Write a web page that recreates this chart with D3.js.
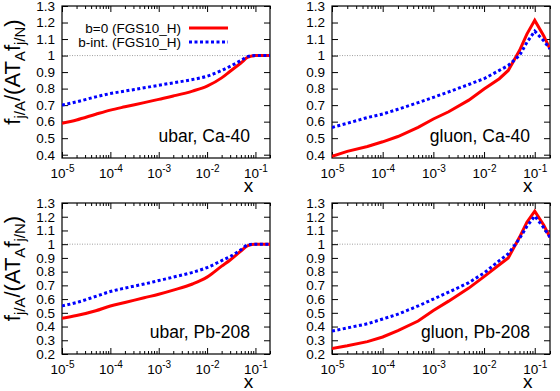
<!DOCTYPE html>
<html>
<head>
<meta charset="utf-8">
<script src="https://cdn.jsdelivr.net/npm/d3@7"></script>
<style>
  body { margin: 0; background: #fff; }
  svg { font-family: "Liberation Sans", Arial, sans-serif; }
  .axis path { display: none; }
  .axis line { stroke: #000; stroke-width: 1; }
</style>
</head>
<body>
<script>
// x grid shared by every curve
const xs = [1e-5, 2e-5, 5e-5, 1e-4, 2e-4, 5e-4, 1e-3, 2e-3, 5e-3, 1e-2, 2e-2, 3e-2, 5e-2, 7e-2, 0.1, 0.15, 0.2];

// ubar, Ca-40
const ubarCaB0   = [0.59, 0.61, 0.645, 0.67, 0.69, 0.715, 0.735, 0.755, 0.785, 0.815, 0.865, 0.905, 0.955, 0.99, 1.0, 1.0, 1.0];
const ubarCaBint = [0.70, 0.72, 0.75, 0.77, 0.785, 0.805, 0.82, 0.835, 0.855, 0.875, 0.91, 0.935, 0.97, 0.995, 1.0, 1.0, 1.0];
// gluon, Ca-40
const gluCaB0    = [0.39, 0.42, 0.45, 0.478, 0.51, 0.565, 0.616, 0.66, 0.73, 0.798, 0.86, 0.91, 1.03, 1.13, 1.213, 1.12, 1.04];
const gluCaBint  = [0.565, 0.59, 0.625, 0.646, 0.675, 0.715, 0.747, 0.78, 0.825, 0.86, 0.91, 0.94, 1.0, 1.08, 1.148, 1.09, 1.04];
// ubar, Pb-208
const ubarPbB0   = [0.46, 0.48, 0.515, 0.55, 0.575, 0.61, 0.635, 0.665, 0.71, 0.76, 0.84, 0.885, 0.95, 0.99, 1.0, 1.0, 1.0];
const ubarPbBint = [0.55, 0.575, 0.62, 0.655, 0.68, 0.71, 0.735, 0.76, 0.795, 0.83, 0.88, 0.91, 0.96, 0.995, 1.0, 1.0, 1.0];
// gluon, Pb-208
const gluPbB0    = [0.24, 0.26, 0.29, 0.324, 0.37, 0.44, 0.517, 0.585, 0.68, 0.764, 0.85, 0.9, 1.05, 1.16, 1.24, 1.14, 1.05];
const gluPbBint  = [0.367, 0.39, 0.42, 0.455, 0.49, 0.55, 0.6, 0.65, 0.72, 0.79, 0.88, 0.93, 1.04, 1.13, 1.205, 1.12, 1.05];

const xTickExps = [-5, -4, -3, -2, -1];
const yTicksTop = [0.4, 0.5, 0.6, 0.7, 0.8, 0.9, 1, 1.1, 1.2, 1.3];
const yTicksBot = [0.2, 0.3, 0.4, 0.5, 0.6, 0.7, 0.8, 0.9, 1, 1.1, 1.2, 1.3];
const seriesNames = ["b=0 (FGS10_H)", "b-int. (FGS10_H)"];

const panels = [
  {label: "ubar, Ca-40",   b0: ubarCaB0, bint: ubarCaBint, x0: 62,  x1: 270, y0: 6,   y1: 158, ymin: 0.38, yticks: yTicksTop, ylab: true,  legend: true,  smooth: true},
  {label: "gluon, Ca-40",  b0: gluCaB0,  bint: gluCaBint,  x0: 332, x1: 550, y0: 6,   y1: 158, ymin: 0.38, yticks: yTicksTop, ylab: false, legend: false, smooth: false},
  {label: "ubar, Pb-208",  b0: ubarPbB0, bint: ubarPbBint, x0: 62,  x1: 270, y0: 203, y1: 354, ymin: 0.2,  yticks: yTicksBot, ylab: true,  legend: false, smooth: true},
  {label: "gluon, Pb-208", b0: gluPbB0,  bint: gluPbBint,  x0: 332, x1: 550, y0: 203, y1: 354, ymin: 0.2,  yticks: yTicksBot, ylab: false, legend: false, smooth: false}
];

const svg = d3.select("body").append("svg")
  .attr("width", 560)
  .attr("height", 391);

panels.forEach(p => {
  const x = d3.scaleLog().domain([1e-5, 0.2]).range([p.x0, p.x1]);
  const y = d3.scaleLinear().domain([p.ymin, 1.3]).range([p.y1, p.y0]);
  const g = svg.append("g");

  // dotted reference line at 1
  g.append("line")
    .attr("x1", p.x0).attr("x2", p.x1)
    .attr("y1", y(1)).attr("y2", y(1))
    .attr("stroke", "#777").attr("stroke-width", 0.7)
    .attr("stroke-dasharray", "1,1.5");

  // minor x ticks (2..9 per decade), bottom and top
  const minor = x.ticks().filter(v => !xTickExps.some(e => Math.abs(Math.log10(v) - e) < 1e-6));
  g.append("g").attr("class", "axis")
    .attr("transform", `translate(0,${p.y1})`)
    .call(d3.axisBottom(x).tickValues(minor).tickSize(-3).tickFormat(""));
  g.append("g").attr("class", "axis")
    .attr("transform", `translate(0,${p.y0})`)
    .call(d3.axisTop(x).tickValues(minor).tickSize(-3).tickFormat(""));

  // major x ticks
  const xMajor = xTickExps.map(e => Math.pow(10, e));
  const xAxisG = g.append("g").attr("class", "axis")
    .attr("transform", `translate(0,${p.y1})`)
    .call(d3.axisBottom(x).tickValues(xMajor).tickSize(-6).tickPadding(10).tickFormat(""));
  xAxisG.selectAll(".tick text")
    .attr("font-size", 13.5).attr("fill", "#000")
    .attr("font-family", "Liberation Sans, Arial, sans-serif")
    .each(function(d, i) {
      const t = d3.select(this).text(null);
      t.append("tspan").text("10");
      t.append("tspan").attr("dy", -6).attr("font-size", 10).text(String(xTickExps[i]));
    });
  g.append("g").attr("class", "axis")
    .attr("transform", `translate(0,${p.y0})`)
    .call(d3.axisTop(x).tickValues(xMajor).tickSize(-6).tickFormat(""));

  // y ticks, left with labels and mirrored right
  g.append("g").attr("class", "axis")
    .attr("transform", `translate(${p.x0},0)`)
    .call(d3.axisLeft(y).tickValues(p.yticks).tickSize(-6).tickPadding(7).tickFormat(d3.format("")))
    .selectAll("text")
    .attr("font-size", 13.5).attr("fill", "#000")
    .attr("font-family", "Liberation Sans, Arial, sans-serif");
  g.append("g").attr("class", "axis")
    .attr("transform", `translate(${p.x1},0)`)
    .call(d3.axisRight(y).tickValues(p.yticks).tickSize(-6).tickFormat(""));

  // frame
  g.append("rect")
    .attr("x", p.x0).attr("y", p.y0)
    .attr("width", p.x1 - p.x0).attr("height", p.y1 - p.y0)
    .attr("fill", "none").attr("stroke", "#000").attr("stroke-width", 1.2);

  // curves
  const line = d3.line()
    .x((d, i) => x(xs[i])).y(d => y(d))
    .curve(p.smooth ? d3.curveMonotoneX : d3.curveLinear);
  const clipId = "clip" + p.x0 + "_" + p.y0;
  g.append("clipPath").attr("id", clipId).append("rect")
    .attr("x", p.x0).attr("y", p.y0).attr("width", p.x1 - p.x0).attr("height", p.y1 - p.y0);
  g.append("path").datum(p.b0)
    .attr("d", line).attr("clip-path", `url(#${clipId})`)
    .attr("fill", "none").attr("stroke", "#ff0000").attr("stroke-width", 3);
  g.append("path").datum(p.bint)
    .attr("d", line).attr("clip-path", `url(#${clipId})`)
    .attr("fill", "none").attr("stroke", "#0000ff").attr("stroke-width", 3)
    .attr("stroke-dasharray", "3,2.5");

  // panel label
  g.append("text")
    .attr("x", p.x1 - 20).attr("y", p.y1 - 16)
    .attr("text-anchor", "end").attr("font-size", 17.5)
    .text(p.label);

  // x label
  g.append("text")
    .attr("x", x(0.1) - 7).attr("y", p.y1 + 34)
    .attr("text-anchor", "middle").attr("font-size", 19)
    .text("x");

  if (p.ylab) {
    const cy = (p.y0 + p.y1) / 2 - 10;
    const t = g.append("text")
      .attr("transform", `translate(20,${cy}) rotate(-90)`)
      .attr("text-anchor", "middle").attr("font-size", 22);
    t.append("tspan").text("f");
    t.append("tspan").attr("dy", 5).attr("font-size", 15).text("j/A");
    t.append("tspan").attr("dy", -5).text("/(AT");
    t.append("tspan").attr("dy", 5).attr("font-size", 15).text("A");
    t.append("tspan").attr("dy", -5).text("f");
    t.append("tspan").attr("dy", 5).attr("font-size", 15).text("j/N");
    t.append("tspan").attr("dy", -5).text(")");
  }

  if (p.legend) {
    const styles = [{c: "#ff0000", dash: null}, {c: "#0000ff", dash: "3,2.5"}];
    seriesNames.forEach((name, i) => {
      const ly = 28 + i * 14;
      g.append("text")
        .attr("x", 181).attr("y", ly + 4.5)
        .attr("text-anchor", "end").attr("font-size", 13.5)
        .text(name);
      g.append("line")
        .attr("x1", 189).attr("x2", 228)
        .attr("y1", ly).attr("y2", ly)
        .attr("stroke", styles[i].c).attr("stroke-width", 3)
        .attr("stroke-dasharray", styles[i].dash);
    });
  }
});
</script>
</body>
</html>
